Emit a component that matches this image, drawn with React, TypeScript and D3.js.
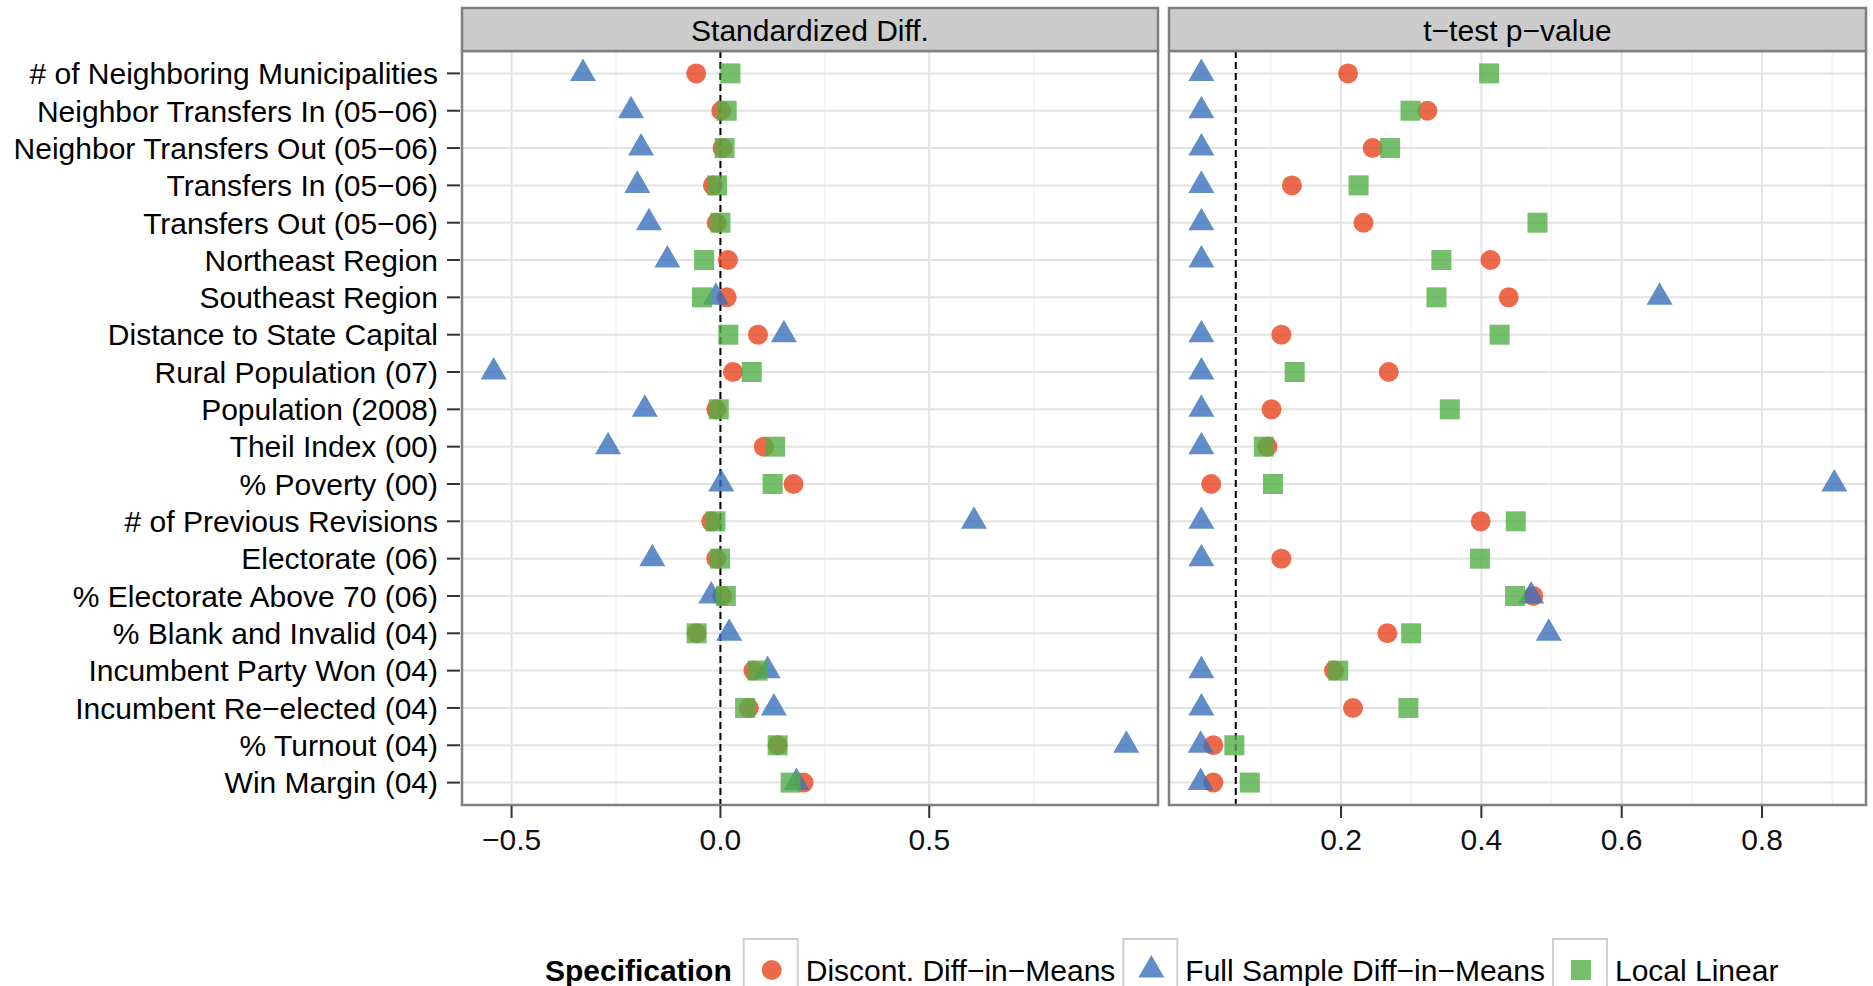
import { useEffect, useRef } from "react";
import * as d3 from "d3";

// Covariates, top to bottom
const variables = [
  "# of Neighboring Municipalities",
  "Neighbor Transfers In (05\u221206)",
  "Neighbor Transfers Out (05\u221206)",
  "Transfers In (05\u221206)",
  "Transfers Out (05\u221206)",
  "Northeast Region",
  "Southeast Region",
  "Distance to State Capital",
  "Rural Population (07)",
  "Population (2008)",
  "Theil Index (00)",
  "% Poverty (00)",
  "# of Previous Revisions",
  "Electorate (06)",
  "% Electorate Above 70 (06)",
  "% Blank and Invalid (04)",
  "Incumbent Party Won (04)",
  "Incumbent Re\u2212elected (04)",
  "% Turnout (04)",
  "Win Margin (04)",
];

// Standardized Diff. panel
const stdDiscont = [-0.058, 0.002, 0.005, -0.018, -0.009, 0.018, 0.015, 0.09, 0.03, -0.01, 0.104, 0.175, -0.022, -0.01, 0.004, -0.057, 0.079, 0.068, 0.137, 0.199];
const stdFull = [-0.329, -0.214, -0.19, -0.199, -0.171, -0.127, -0.011, 0.152, -0.543, -0.181, -0.269, 0.002, 0.607, -0.163, -0.022, 0.021, 0.113, 0.128, 0.972, 0.182];
const stdLocal = [0.024, 0.015, 0.01, -0.008, 0.0, -0.039, -0.044, 0.019, 0.075, -0.004, 0.131, 0.125, -0.012, -0.001, 0.013, -0.057, 0.089, 0.059, 0.137, 0.168];

// t-test p-value panel
const pDiscont = [0.21, 0.323, 0.245, 0.13, 0.232, 0.413, 0.439, 0.115, 0.268, 0.101, 0.095, 0.015, 0.399, 0.115, 0.474, 0.266, 0.19, 0.217, 0.018, 0.018];
const pFull = [0.001, 0.001, 0.001, 0.001, 0.001, 0.001, 0.654, 0.001, 0.001, 0.001, 0.001, 0.903, 0.001, 0.001, 0.471, 0.496, 0.001, 0.001, 0.0, 0.0];
const pLocal = [0.411, 0.299, 0.27, 0.225, 0.48, 0.343, 0.336, 0.426, 0.134, 0.355, 0.09, 0.103, 0.449, 0.398, 0.448, 0.3, 0.196, 0.296, 0.048, 0.07];

// ticks
const stdTicks = [-0.5, 0, 0.5];
const stdMinor = [-0.25, 0.25, 0.75];
const pTicks = [0.2, 0.4, 0.6, 0.8];
const pMinor = [0.1, 0.3, 0.5, 0.7, 0.9];

const specNames = ["Discont. Diff\u2212in\u2212Means", "Full Sample Diff\u2212in\u2212Means", "Local Linear"];

const W = 1873;
const H = 986;
const FONT = "'Liberation Sans', Arial, Helvetica, sans-serif";
const COLORS = ["#E8441F", "#3A70BA", "#52AE46"];
const ALPHA = 0.8;

//draw one of the three shapes centered at 0,0
const drawShape = (g: any, kind: number) => {
  if (kind === 0) {
    g.append("circle").attr("r", 10);
  } else if (kind === 1) {
    const s = 26;
    const h = (s * Math.sqrt(3)) / 2;
    g.append("path").attr("d", `M0,${(-2 * h) / 3}L${s / 2},${h / 3}L${-s / 2},${h / 3}Z`);
  } else {
    g.append("rect").attr("x", -10).attr("y", -10).attr("width", 20).attr("height", 20);
  }
};

export default function App() {
  const ref = useRef<SVGSVGElement>(null);

  useEffect(() => {
    const svg = d3.select(ref.current);
    svg.selectAll("*").remove();
    svg.attr("font-family", FONT);

    svg.append("rect").attr("width", W).attr("height", H).attr("fill", "#fff");

    const stripTop = 8;
    const panelTop = 51;
    const panelBottom = 805;

    const y = d3.scalePoint<string>().domain(variables).range([panelTop, panelBottom]).padding(0.6);

    // ggplot style 5% expansion of data range
    const expand = (vals: number[]) => {
      const [a, b] = d3.extent(vals) as [number, number];
      const r = b - a;
      return [a - r * 0.05, b + r * 0.05];
    };

    const panels = [
      {
        title: "Standardized Diff.",
        x0: 462,
        x1: 1158,
        series: [stdDiscont, stdFull, stdLocal],
        ticks: stdTicks,
        minor: stdMinor,
        ref: 0,
        fmt: (v: number) => d3.format(".1f")(v).replace("-", "\u2212"),
      },
      {
        title: "t\u2212test p\u2212value",
        x0: 1169,
        x1: 1866,
        series: [pDiscont, pFull, pLocal],
        ticks: pTicks,
        minor: pMinor,
        ref: 0.05,
        fmt: (v: number) => d3.format(".1f")(v),
      },
    ];

    panels.forEach((p) => {
      const x = d3
        .scaleLinear()
        .domain(expand(p.series.flat()))
        .range([p.x0, p.x1]);
      const g = svg.append("g");

      g.append("rect")
        .attr("x", p.x0)
        .attr("y", panelTop)
        .attr("width", p.x1 - p.x0)
        .attr("height", panelBottom - panelTop)
        .attr("fill", "#fff");

      // grid
      g.selectAll(".minor")
        .data(p.minor)
        .join("line")
        .attr("x1", (d) => x(d))
        .attr("x2", (d) => x(d))
        .attr("y1", panelTop)
        .attr("y2", panelBottom)
        .attr("stroke", "#F2F2F2")
        .attr("stroke-width", 1.5);
      g.selectAll(".major")
        .data(p.ticks)
        .join("line")
        .attr("x1", (d) => x(d))
        .attr("x2", (d) => x(d))
        .attr("y1", panelTop)
        .attr("y2", panelBottom)
        .attr("stroke", "#E3E3E3")
        .attr("stroke-width", 2);
      g.selectAll(".hgrid")
        .data(variables)
        .join("line")
        .attr("x1", p.x0)
        .attr("x2", p.x1)
        .attr("y1", (d) => y(d)!)
        .attr("y2", (d) => y(d)!)
        .attr("stroke", "#E3E3E3")
        .attr("stroke-width", 2);

      // reference line
      g.append("line")
        .attr("x1", x(p.ref))
        .attr("x2", x(p.ref))
        .attr("y1", panelTop)
        .attr("y2", panelBottom)
        .attr("stroke", "#000")
        .attr("stroke-width", 2)
        .attr("stroke-dasharray", "7,4");

      // points
      p.series.forEach((vals, k) => {
        vals.forEach((v, i) => {
          const pt = g
            .append("g")
            .attr("transform", `translate(${x(v)},${y(variables[i])})`)
            .attr("fill", COLORS[k])
            .attr("fill-opacity", ALPHA);
          drawShape(pt, k);
        });
      });

      // border
      g.append("rect")
        .attr("x", p.x0)
        .attr("y", panelTop)
        .attr("width", p.x1 - p.x0)
        .attr("height", panelBottom - panelTop)
        .attr("fill", "none")
        .attr("stroke", "#7F7F7F")
        .attr("stroke-width", 2.5);

      // strip
      g.append("rect")
        .attr("x", p.x0)
        .attr("y", stripTop)
        .attr("width", p.x1 - p.x0)
        .attr("height", panelTop - stripTop)
        .attr("fill", "#CCCCCC")
        .attr("stroke", "#7F7F7F")
        .attr("stroke-width", 2.5);
      g.append("text")
        .attr("x", (p.x0 + p.x1) / 2)
        .attr("y", 41)
        .attr("text-anchor", "middle")
        .attr("font-size", 30)
        .attr("fill", "#000")
        .text(p.title);

      // x axis
      const ax = g.append("g");
      ax.selectAll("line")
        .data(p.ticks)
        .join("line")
        .attr("x1", (d) => x(d))
        .attr("x2", (d) => x(d))
        .attr("y1", panelBottom + 1)
        .attr("y2", panelBottom + 13)
        .attr("stroke", "#333")
        .attr("stroke-width", 2);
      ax.selectAll("text")
        .data(p.ticks)
        .join("text")
        .attr("x", (d) => x(d))
        .attr("y", 850)
        .attr("text-anchor", "middle")
        .attr("font-size", 30)
        .attr("fill", "#111")
        .text((d) => p.fmt(d));
    });

    // y axis on the left panel
    const ay = svg.append("g");
    ay.selectAll("line")
      .data(variables)
      .join("line")
      .attr("x1", 447)
      .attr("x2", 460)
      .attr("y1", (d) => y(d)!)
      .attr("y2", (d) => y(d)!)
      .attr("stroke", "#333")
      .attr("stroke-width", 2);
    ay.selectAll("text")
      .data(variables)
      .join("text")
      .attr("x", 438)
      .attr("y", (d) => y(d)!)
      .attr("dy", "0.36em")
      .attr("text-anchor", "end")
      .attr("font-size", 30)
      .attr("fill", "#000")
      .text((d) => d);

    // legend
    const leg = svg.append("g");
    const legY = 970;
    const title = leg
      .append("text")
      .attr("x", 545)
      .attr("y", legY)
      .attr("dy", "0.36em")
      .attr("font-size", 30)
      .attr("font-weight", "bold")
      .text("Specification");
    let cx = 545 + (title.node() as SVGTextElement).getComputedTextLength() + 12;
    specNames.forEach((name, k) => {
      leg.append("rect")
        .attr("x", cx)
        .attr("y", 939)
        .attr("width", 54)
        .attr("height", 62)
        .attr("fill", "#fff")
        .attr("stroke", "#CFCFCF")
        .attr("stroke-width", 2);
      const sym = leg
        .append("g")
        .attr("transform", `translate(${cx + 28},${legY})`)
        .attr("fill", COLORS[k])
        .attr("fill-opacity", ALPHA);
      drawShape(sym, k);
      const t = leg
        .append("text")
        .attr("x", cx + 62)
        .attr("y", legY)
        .attr("dy", "0.36em")
        .attr("font-size", 30)
        .text(name);
      cx = cx + 62 + (t.node() as SVGTextElement).getComputedTextLength() + 8;
    });
  }, []);

  return (
    <div style={{ position: "absolute", left: 0, top: 0 }}>
      <svg ref={ref} width={W} height={H} />
    </div>
  );
}
